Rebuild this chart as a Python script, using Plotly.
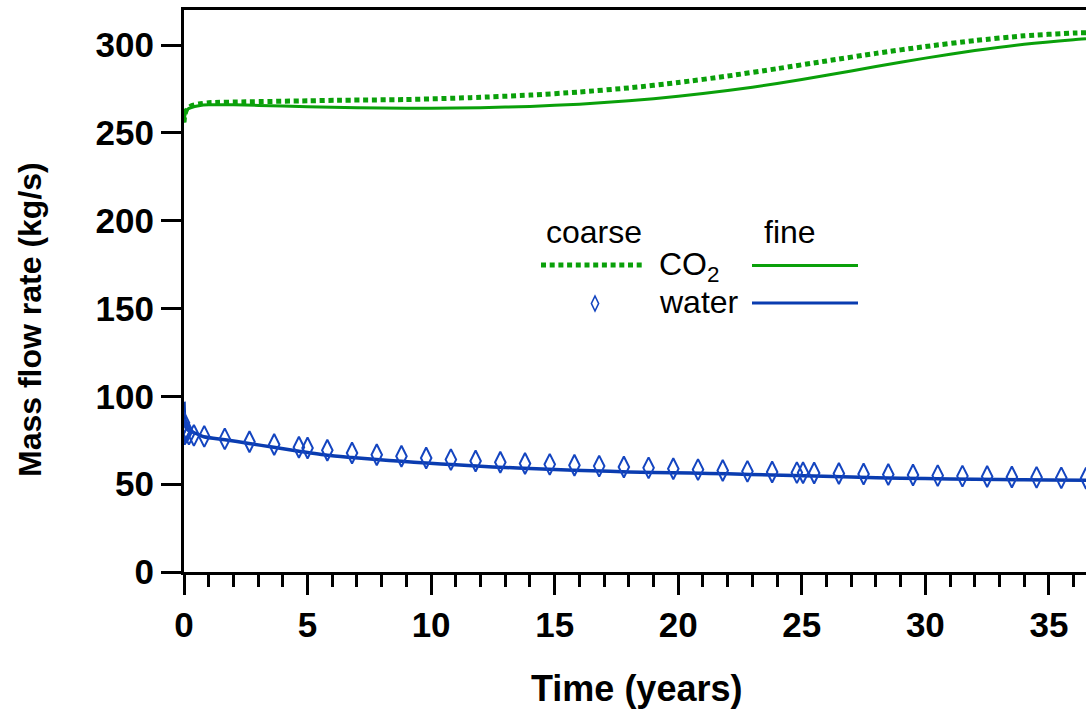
import plotly.graph_objects as go

# ---------------- data ----------------
# CO2, fine grid (solid)
t_co2_fine = [0, 0.03, 0.08, 0.15, 0.3, 0.6, 1.0, 2.0, 4.0, 6.0, 8.0, 10.0, 12.0, 14.0, 16.0,
              18.0, 20.0, 22.0, 24.0, 26.0, 28.0, 30.0, 32.0, 34.0, 36.0, 36.5]
q_co2_fine = [256, 259.5, 262, 263.5, 264.5, 265.5, 266.0, 266.0, 265.3, 264.6, 264.2, 264.1, 264.4,
              265.1, 266.4, 268.3, 270.85, 274.1, 278.1, 282.8, 287.8, 292.6, 296.9, 300.5,
              303.1, 303.6]

# CO2, coarse grid (dotted)
t_co2_coarse = [0, 0.03, 0.08, 0.15, 0.3, 0.6, 1.0, 2.5, 5.0, 6.2, 8.9, 11.6, 14.0, 16.0, 18.0,
                20.0, 22.0, 24.0, 26.0, 28.0, 30.0, 32.0, 34.0, 36.0, 36.5]
q_co2_coarse = [256, 260, 262.5, 264, 265.5, 266.5, 267.2, 267.7, 268.3, 268.6, 269.0, 270.1, 271.55,
                273.3, 275.65, 278.7, 282.4, 286.6, 291.0, 295.3, 299.2, 302.6, 305.3, 306.9,
                307.1]

# water, fine grid (solid)
t_w_fine = [0, 0.02, 0.05, 0.1, 0.2, 0.36, 0.8, 1.66, 2.63, 3.63, 4.65, 5.8, 6.8, 7.8, 8.8, 9.8,
            11.0, 12.0, 13.0, 14.0, 15.0, 16.5, 18.0, 19.0, 20.5, 22.0, 23.8, 25.5, 27.0, 29.0,
            31.0, 33.0, 35.0, 36.5]
q_w_fine = [97, 88, 84, 82, 80.5, 79.6, 77.0, 75.3, 73.2, 71.0, 68.8, 66.5, 65.2, 64.0, 63.0, 62.0,
            61.0, 60.2, 59.5, 58.9, 58.3, 57.6, 57.0, 56.7, 56.3, 55.9, 55.2, 54.6, 54.1, 53.4,
            53.0, 52.6, 52.4, 52.3]

# water, coarse grid (diamonds)
t_w_coarse = [0, 0.01, 0.03, 0.06, 0.1, 0.2, 0.4, 0.82, 1.65, 2.65, 3.65, 4.65, 5.0, 5.8, 6.8, 7.8,
              8.8, 9.8, 10.8, 11.8, 12.8, 13.8, 14.8, 15.8, 16.8, 17.8, 18.8, 19.8, 20.8, 21.8,
              22.8, 23.8, 24.8, 25.05, 25.5, 26.5, 27.5, 28.5, 29.5, 30.5, 31.5, 32.5, 33.5, 34.5,
              35.5, 36.5]
q_w_coarse = [85, 80, 78.5, 81, 79.5, 78.5, 77.8, 77.2, 75.8, 74.2, 72.6, 71.0, 70.6, 69.3, 67.8,
              66.8, 65.9, 64.9, 64.0, 63.2, 62.5, 61.8, 61.3, 60.8, 60.3, 59.8, 59.3, 58.8, 58.3,
              57.8, 57.3, 56.9, 56.6, 56.5, 56.4, 56.1, 55.8, 55.5, 55.2, 54.9, 54.6, 54.4, 54.1,
              53.9, 53.6, 53.4]

x_range = [0, 36.5]
y_range = [0, 320]
x_major_ticks = [0, 5, 10, 15, 20, 25, 30, 35]
y_major_ticks = [0, 50, 100, 150, 200, 250, 300]

GREEN = "#0aa00a"
BLUE = "#0a3cb0"
MBLUE = "#1445c0"
FONT = "Liberation Sans, Arial, sans-serif"
DOT = "5px,3.7px"

fig = go.Figure()
fig.add_trace(go.Scatter(x=t_co2_fine, y=q_co2_fine, mode="lines",
                         line=dict(color=GREEN, width=3, shape="spline", smoothing=0.6),
                         showlegend=False))
fig.add_trace(go.Scatter(x=t_co2_coarse, y=q_co2_coarse, mode="lines",
                         line=dict(color=GREEN, width=5, dash=DOT, shape="spline", smoothing=0.6),
                         showlegend=False))
fig.add_trace(go.Scatter(x=t_w_fine, y=q_w_fine, mode="lines",
                         line=dict(color=BLUE, width=3.5, shape="spline", smoothing=0.6),
                         showlegend=False))
fig.add_trace(go.Scatter(x=t_w_coarse, y=q_w_coarse, mode="markers",
                         marker=dict(symbol="diamond-tall-open", size=15, color=MBLUE,
                                     line=dict(width=2, color=MBLUE)),
                         showlegend=False))

# ---------------- legend (drawn manually) ----------------
def px_x(p):
    return (p - 184) / 902 * (x_range[1] - x_range[0])

def px_y(p):
    return (572 - p) / 562 * (y_range[1] - y_range[0])

shapes = []
shapes.append(dict(type="line", xref="x", yref="y", x0=px_x(541), x1=px_x(642),
                   y0=px_y(265), y1=px_y(265), line=dict(color=GREEN, width=5, dash=DOT)))
shapes.append(dict(type="line", xref="x", yref="y", x0=px_x(752), x1=px_x(858),
                   y0=px_y(265.5), y1=px_y(265.5), line=dict(color=GREEN, width=3)))
shapes.append(dict(type="line", xref="x", yref="y", x0=px_x(752), x1=px_x(858),
                   y0=px_y(303), y1=px_y(303), line=dict(color=BLUE, width=3)))
cx, cy = 595, 303.5
w, h = 3.6, 7.5
path = (f"M {px_x(cx)},{px_y(cy - h)} L {px_x(cx + w)},{px_y(cy)} "
        f"L {px_x(cx)},{px_y(cy + h)} L {px_x(cx - w)},{px_y(cy)} Z")
shapes.append(dict(type="path", xref="x", yref="y", path=path,
                   line=dict(color=MBLUE, width=1.6)))

ann_font = dict(family=FONT, size=32, color="black")
title_font_x = dict(family=FONT, size=36, color="black", weight="bold")
title_font_y = dict(family=FONT, size=32, color="black", weight="bold")
annotations = [
    dict(x=px_x(594), y=px_y(232), xref="x", yref="y", text="coarse", showarrow=False,
         xanchor="center", yanchor="middle", font=ann_font),
    dict(x=px_x(790), y=px_y(232), xref="x", yref="y", text="fine", showarrow=False,
         xanchor="center", yanchor="middle", font=ann_font),
    dict(x=px_x(657), y=px_y(266), xref="x", yref="y", text="CO<sub>2</sub>", showarrow=False,
         xanchor="left", yanchor="middle", font=ann_font),
    dict(x=px_x(657), y=px_y(302), xref="x", yref="y", text="water", showarrow=False,
         xanchor="left", yanchor="middle", font=ann_font),
    # axis titles
    dict(x=(636 - 184) / 902, y=(572 - 688) / 562, xref="paper", yref="paper",
         text="Time (years)", showarrow=False, xanchor="center", yanchor="middle",
         font=title_font_x),
    dict(x=(30 - 184) / 902, y=(572 - 320) / 562, xref="paper", yref="paper",
         text="Mass flow rate (kg/s)", showarrow=False, textangle=-90,
         xanchor="center", yanchor="middle", font=title_font_y),
]

tick_font = dict(family=FONT, size=35, color="black", weight="bold")

fig.update_layout(
    width=1086, height=715,
    margin=dict(l=184, r=0, t=10, b=143),
    paper_bgcolor="white", plot_bgcolor="white",
    shapes=shapes, annotations=annotations,
    xaxis=dict(range=x_range, tickvals=x_major_ticks, ticks="outside", ticklen=20, tickwidth=2.5,
               tickcolor="black", showline=True, linecolor="black", linewidth=3, mirror=True,
               showgrid=False, zeroline=False, tickfont=tick_font,
               minor=dict(dtick=1, tick0=0, ticks="outside", ticklen=12, tickwidth=2.5,
                          tickcolor="black", showgrid=False)),
    yaxis=dict(range=y_range, tickvals=y_major_ticks, ticks="outside", ticklen=20, tickwidth=2.5,
               tickcolor="black", showline=True, linecolor="black", linewidth=3,
               showgrid=False, zeroline=False, tickfont=tick_font),
)

fig.write_html("out.html")
